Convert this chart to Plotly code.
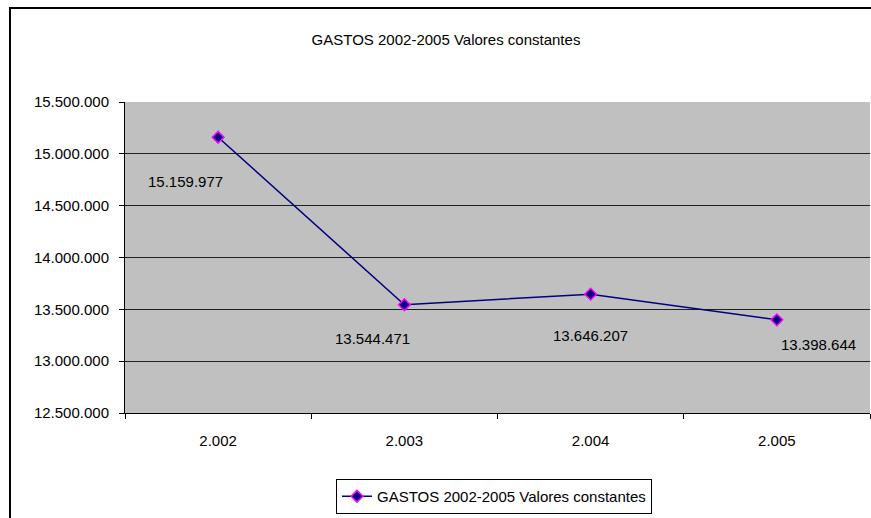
import plotly.graph_objects as go

# Gastos anuales a valores constantes
years = ["2.002", "2.003", "2.004", "2.005"]
gastos = [15159977, 13544471, 13646207, 13398644]
value_labels = ["15.159.977", "13.544.471", "13.646.207", "13.398.644"]
series_name = "GASTOS 2002-2005 Valores constantes"
y_ticks = [12500000, 13000000, 13500000, 14000000, 14500000, 15000000, 15500000]

# pixel offsets of each value label from its point
label_dx = [-33, -32, 0, 42]
label_dy = [-44, -34, -41, -25]

FONT = "Liberation Sans, Arial, sans-serif"
FS = 15

W, H = 871, 518
ML, MR, MT, MB = 125, 1, 102, 105
PW, PH = W - ML - MR, H - MT - MB


def px_x(px):
    return (px - ML) / PW


def px_y(py):
    return (H - MB - py) / PH


fig = go.Figure()
fig.add_trace(go.Scatter(
    x=years, y=gastos, mode="lines+markers", name=series_name,
    line=dict(color="#000080", width=1.5),
    marker=dict(symbol="diamond", size=9, color="#000080",
                line=dict(color="#FF00FF", width=1.5)),
    hoverinfo="skip",
))

# category positions are indices on the category axis
annotations = []
for i, (y, t, dx, dy) in enumerate(zip(gastos, value_labels, label_dx, label_dy)):
    annotations.append(dict(
        x=i, y=y, xref="x", yref="y", text=t, showarrow=False,
        xshift=dx, yshift=dy, font=dict(family=FONT, size=FS, color="black"),
    ))

fig.update_layout(
    width=W, height=H,
    margin=dict(l=ML, r=MR, t=MT, b=MB),
    paper_bgcolor="white",
    plot_bgcolor="#C0C0C0",
    separators=",.",
    font=dict(family=FONT, size=FS, color="black"),
    title=dict(text=series_name, x=446 / W, xref="container", xanchor="center",
               y=1 - 40 / H, yref="container", yanchor="middle",
               font=dict(family=FONT, size=FS, color="black")),
    showlegend=True,
    legend=dict(orientation="h", x=px_x(494), xanchor="center",
                y=px_y(479), yanchor="top",
                bordercolor="black", borderwidth=1, bgcolor="white",
                font=dict(family=FONT, size=FS, color="black"),
                itemsizing="trace"),
    annotations=annotations,
    shapes=[dict(type="rect", xref="paper", yref="paper",
                 x0=px_x(10), y0=px_y(530), x1=px_x(880), y1=px_y(8),
                 line=dict(color="black", width=2), fillcolor="rgba(0,0,0,0)")],
)

fig.update_xaxes(
    type="category", tickson="boundaries", range=[-0.5, len(years) - 0.5],
    showline=True, linecolor="black", linewidth=1, mirror=False,
    ticks="outside", ticklen=5, tickcolor="black",
    ticklabelstandoff=14, showgrid=False,
    tickfont=dict(family=FONT, size=FS, color="black"),
)
fig.update_yaxes(
    range=[12500000, 15500000], tickvals=y_ticks, tickformat=",.0f",
    showline=True, linecolor="black", linewidth=1,
    ticks="outside", ticklen=5, tickcolor="black", ticklabelstandoff=7,
    showgrid=True, gridcolor="#202020", gridwidth=1, zeroline=False,
    tickfont=dict(family=FONT, size=FS, color="black"),
)

fig.write_html("out.html")
